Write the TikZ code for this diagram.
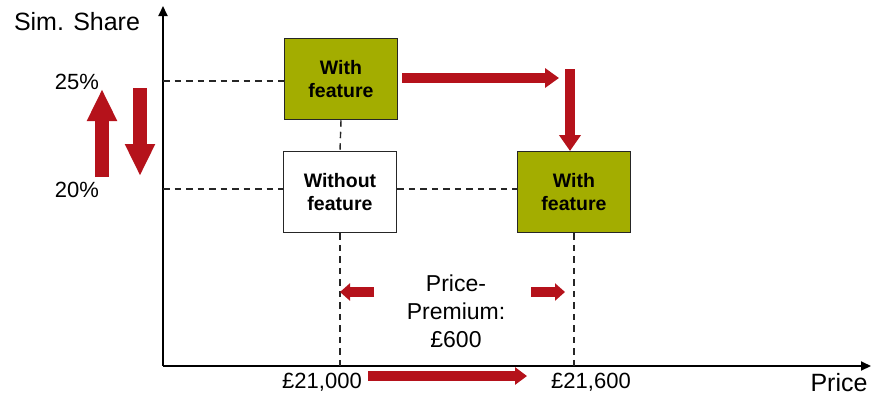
\documentclass[tikz,border=0pt]{standalone}
\usepackage{fontspec}
\setmainfont{Liberation Sans}
\usetikzlibrary{arrows.meta}
\definecolor{featuregreen}{HTML}{A3AD00}
\definecolor{premiumred}{HTML}{B5121B}
\definecolor{framegray}{HTML}{262626}

\begin{document}
\begin{tikzpicture}[x=1pt,y=-1pt,
  axis/.style={line width=2pt,-{Triangle[length=10pt,width=9pt]}},
  guide/.style={line width=1.4pt,framegray,dash pattern=on 6.5pt off 5pt},
  box/.style={draw=framegray,line width=1.5pt,minimum width=113pt,minimum height=81pt,
    inner sep=0pt,align=center,font=\fontsize{19.5}{23}\selectfont\bfseries},
  withbox/.style={box,fill=featuregreen},
  fat/.style={premiumred,line width=14pt,-{Triangle[width=28pt,length=32pt]}},
  slim/.style={premiumred,line width=10pt,-{Triangle[width=19pt,length=14pt]}},
  tick/.style={font=\fontsize{22}{26}\selectfont},
  title/.style={font=\fontsize{25}{29}\selectfont}
]
\useasboundingbox (0,0) rectangle (873,397);

% axes
\coordinate (O) at (163,366);
\coordinate (ytip) at (163,6);
\coordinate (xtip) at (871,366);
\draw[axis] (O) -- (ytip);
\draw[axis] (O) -- (xtip);
\node[title] (ylab) at (77,22) {Sim. Share};
\node[title] (xlab) at (839,383) {Price};

% share levels on the vertical axis
\coordinate (lvl25) at (163,81);
\coordinate (lvl20) at (163,189);

% products
\node[withbox] (b1) at (341,79) {With\\feature};
\node[box,fill=white] (b2) at (340,192) {Without\\feature};
\node[withbox] (b3) at (574,192) {With\\feature};

% guide lines
\draw[guide] (lvl25) -- (b1.west |- lvl25);
\draw[guide] (lvl20) -- (b2.west |- lvl20);
\draw[guide] (b2.east |- lvl20) -- (b3.west |- lvl20);
\draw[guide] (b1.south) -- (b2.north);
\draw[guide] (b2.south) -- (b2.south |- O);
\draw[guide] (b3.south) -- (b3.south |- O);

% tick labels
\node[tick] (t25) at (77,82) {25\%};
\node[tick] (t20) at (77,190) {20\%};
\node[tick] (p1) at (322,382) {£21,000};
\node[tick] (p2) at (591,382) {£21,600};
\node[font=\fontsize{23}{28}\selectfont,align=center] (prem) at (456,311) {Price-\\Premium:\\£600};

% share change arrows
\coordinate (upA) at (102,177);
\coordinate (upB) at (102,89);
\coordinate (dnA) at (140,88);
\coordinate (dnB) at (140,176);
\draw[fat] (upA) -- (upB);
\draw[fat] (dnA) -- (dnB);

% move of the featured product
\coordinate (hA) at (402,78);
\coordinate (hB) at (559,78);
\coordinate (vA) at (570,69);
\coordinate (vB) at (570,151);
\draw[slim] (hA) -- (hB);
\draw[slim,-{Triangle[width=21pt,length=16pt]}] (vA) -- (vB);

% premium span
\coordinate (lA) at (374,292);
\coordinate (lB) at (340,292);
\coordinate (rA) at (531,292);
\coordinate (rB) at (565,292);
\draw[slim,-{Triangle[width=17pt,length=10pt]}] (lA) -- (lB);
\draw[slim,-{Triangle[width=17pt,length=10pt]}] (rA) -- (rB);

% price increase
\coordinate (bA) at (368,376);
\coordinate (bB) at (527,376);
\draw[slim,line width=9.5pt,-{Triangle[width=17pt,length=12pt]}] (bA) -- (bB);
\end{tikzpicture}
\end{document}
